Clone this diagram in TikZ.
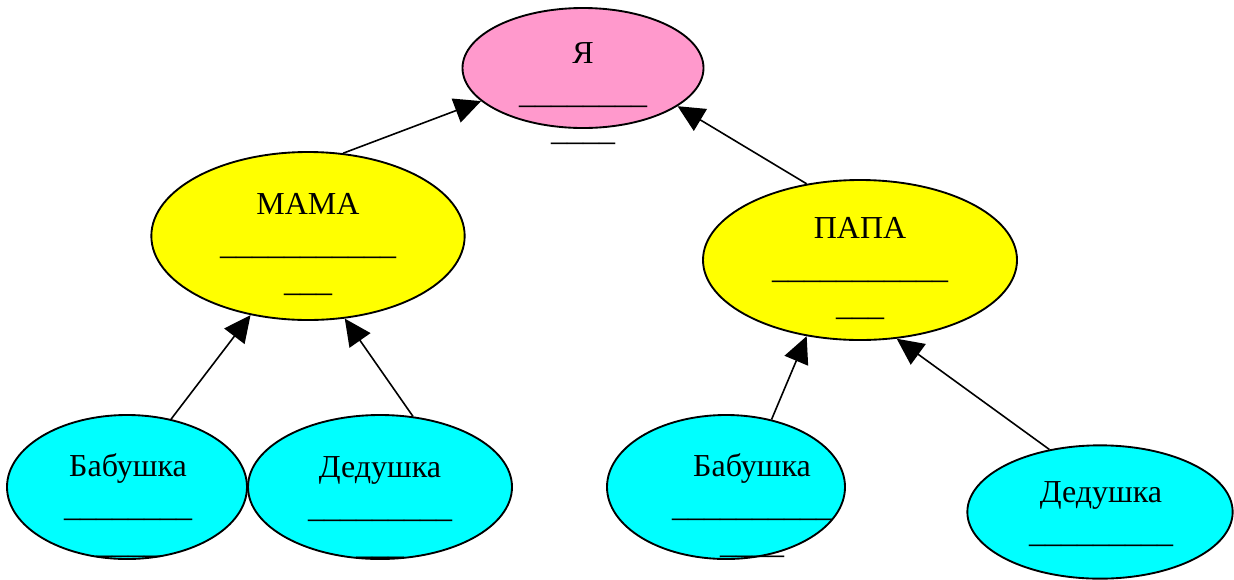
\documentclass[tikz,border=0pt]{standalone}
\usepackage{fontspec}
\setmainfont{Liberation Serif}
\usetikzlibrary{shapes.geometric,arrows.meta,positioning}

\begin{document}
\begin{tikzpicture}[x=0.75pt,y=0.75pt,yscale=-1,xscale=1,
    oval/.style={ellipse,draw,line width=1.4pt,inner sep=0pt},
    lbl/.style={anchor=north,inner sep=0pt,align=center,font=\fontsize{24}{28}\selectfont},
    link/.style={line width=1.2pt,-{Triangle[length=20pt,width=19pt]}}]
\useasboundingbox (0,0) rectangle (1234,579);

%Shape: Ellipse [id:ya] 
    \draw (583,68) node [oval,fill={rgb,255:red,255;green,153;blue,204},minimum width=180.75pt,minimum height=90pt] (ya) {};
%Shape: Ellipse [id:mama] 
    \draw (308,236) node [oval,fill={rgb,255:red,255;green,255;blue,0},minimum width=235pt,minimum height=126pt] (mama) {};
%Shape: Ellipse [id:papa] 
    \draw (860,260) node [oval,fill={rgb,255:red,255;green,255;blue,0},minimum width=235.5pt,minimum height=120pt] (papa) {};
%Shape: Ellipse [id:babushka1] 
    \draw (127,487) node [oval,fill={rgb,255:red,0;green,255;blue,255},minimum width=180pt,minimum height=108pt] (babushka1) {};
%Shape: Ellipse [id:dedushka1] 
    \draw (380,487) node [oval,fill={rgb,255:red,0;green,255;blue,255},minimum width=198pt,minimum height=108pt] (dedushka1) {};
%Shape: Ellipse [id:babushka2] 
    \draw (726,487) node [oval,fill={rgb,255:red,0;green,255;blue,255},minimum width=178.5pt,minimum height=108pt] (babushka2) {};
%Shape: Ellipse [id:dedushka2] 
    \draw (1100,512) node [oval,fill={rgb,255:red,0;green,255;blue,255},minimum width=199pt,minimum height=100pt] (dedushka2) {};

%Straight Lines [id:mama-ya] 
    \draw [link] (mama.67) -- (ya.198) ;
%Straight Lines [id:papa-ya] 
    \draw [link] (papa.125) -- (ya.338) ;
%Straight Lines [id:babushka1-mama] 
    \draw [link] (babushka1.57) -- (mama.234) ;
%Straight Lines [id:dedushka1-mama] 
    \draw [link] (dedushka1.65) -- (mama.294) ;
%Straight Lines [id:babushka2-papa] 
    \draw [link] (babushka2.56) -- (papa.235) ;
%Straight Lines [id:dedushka2-papa] 
    \draw [link] (dedushka2.129) -- (papa.295) ;

% Text Node
    \draw (583,42) node [lbl] (yatxt) {Я\\[2pt]\_\_\_\_\_\_\_\_\\\_\_\_\_};
% Text Node
    \draw (308,193) node [lbl] (matxt) {МАМА\\[2pt]\_\_\_\_\_\_\_\_\_\_\_\\\_\_\_};
% Text Node
    \draw (860,217) node [lbl] (patxt) {ПАПА\\[2pt]\_\_\_\_\_\_\_\_\_\_\_\\\_\_\_};
% Text Node
    \draw (128,453) node [lbl] (ba1txt) {Бабушка\\[2pt]\_\_\_\_\_\_\_\_\\\_\_\_\_};
% Text Node
    \draw (380,456) node [lbl] (de1txt) {Дедушка\\[2pt]\_\_\_\_\_\_\_\_\_\\\_\_\_};
% Text Node
    \draw (752,453) node [lbl] (ba2txt) {Бабушка\\[2pt]\_\_\_\_\_\_\_\_\_\_\\\_\_\_\_};
% Text Node
    \draw (1101,481) node [lbl] (de2txt) {Дедушка\\[2pt]\_\_\_\_\_\_\_\_\_};
  \end{tikzpicture}
\end{document}
